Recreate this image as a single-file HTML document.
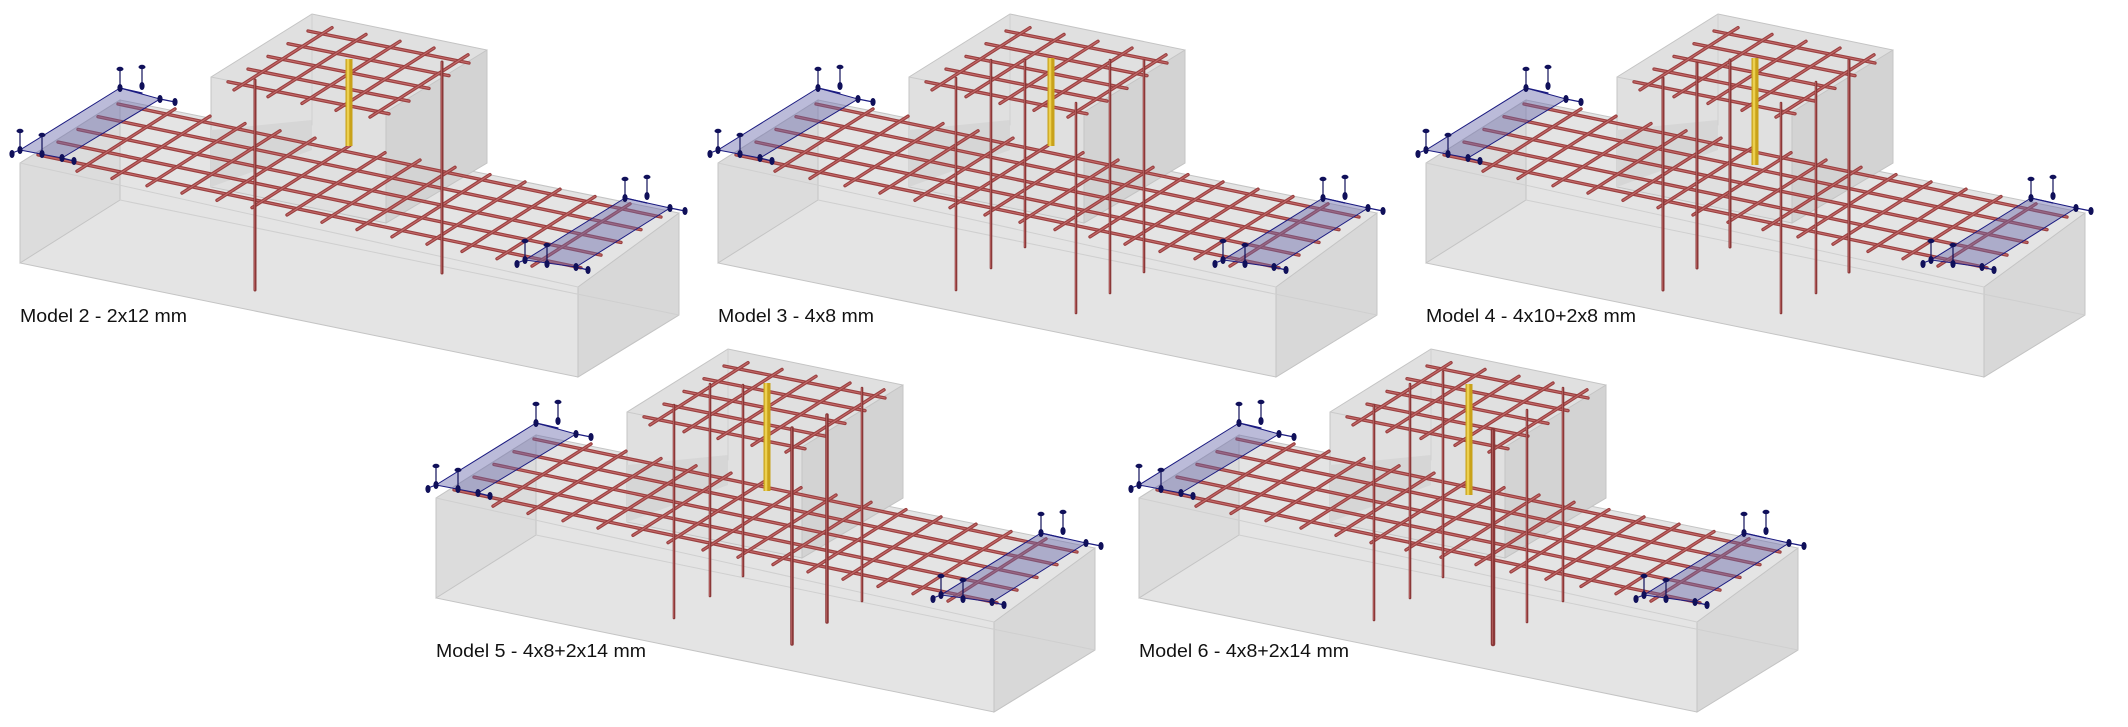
<!DOCTYPE html>
<html><head><meta charset="utf-8"><style>
html,body{margin:0;padding:0;background:#fff;width:2128px;height:727px;overflow:hidden}
svg{display:block}
text{font-family:"Liberation Sans",sans-serif;font-size:18px;fill:#111}
</style></head><body>
<svg id="s" width="2128" height="727" viewBox="0 0 2128 727" xmlns="http://www.w3.org/2000/svg">
<g id="models"></g>
<text x="20" y="322" textLength="167" lengthAdjust="spacingAndGlyphs">Model 2 - 2x12 mm</text>
<text x="718" y="322" textLength="156" lengthAdjust="spacingAndGlyphs">Model 3 - 4x8 mm</text>
<text x="1426" y="322" textLength="210" lengthAdjust="spacingAndGlyphs">Model 4 - 4x10+2x8 mm</text>
<text x="436" y="657" textLength="210" lengthAdjust="spacingAndGlyphs">Model 5 - 4x8+2x14 mm</text>
<text x="1139" y="657" textLength="210" lengthAdjust="spacingAndGlyphs">Model 6 - 4x8+2x14 mm</text>
</svg>
<script>
var NS="http://www.w3.org/2000/svg";
var root=document.getElementById("models");
function el(p,tag,a){var e=document.createElementNS(NS,tag);for(var k in a)e.setAttribute(k,a[k]);p.appendChild(e);return e;}
function poly(g,pts,fill,stroke){return el(g,"polygon",{points:pts.map(function(p){return p.join(",")}).join(" "),fill:fill,stroke:stroke||"#c4c4c4","stroke-width":1});}
function line(g,a,b,c,w,extra){var o={x1:a[0],y1:a[1],x2:b[0],y2:b[1],stroke:c,"stroke-width":w,"stroke-linecap":"round"};for(var k in extra)o[k]=extra[k];return el(g,"line",o);}
function bar(g,a,b){line(g,a,b,"#9a4040",3.4);line(g,a,b,"#c46a6a",1.1);}
function marker(g,x,y,up){
  if(up){line(g,[x,y],[x,y-18],"#10105a",1.2);el(g,"ellipse",{cx:x,cy:y-19,rx:3.5,ry:2.2,fill:"#10105a"});}
  el(g,"ellipse",{cx:x,cy:y,rx:2.6,ry:4,fill:"#10105a"});
}
function plate(g,p){
  poly(g,p,"rgba(105,105,170,0.45)","#1a1a80");
  line(g,p[0],[p[0][0]+22,p[0][1]+5],"#1a1a80",1.2);
  line(g,p[1],[p[1][0]+15,p[1][1]+3],"#1a1a80",1.2);
  line(g,p[3],[p[3][0]-8,p[3][1]+3],"#1a1a80",1.2);
  line(g,p[2],[p[2][0]+12,p[2][1]+3],"#1a1a80",1.2);
  marker(g,p[0][0],p[0][1],true);marker(g,p[1][0],p[1][1],false);
  marker(g,p[1][0]+15,p[1][1]+3,false);marker(g,p[0][0]+22,p[0][1]-2,true);
  marker(g,p[3][0],p[3][1],true);marker(g,p[3][0]-8,p[3][1]+4,false);
  marker(g,p[2][0],p[2][1],false);marker(g,p[2][0]+12,p[2][1]+3,false);
  marker(g,p[3][0]+22,p[3][1]+4,true);
}
function model(ox,oy,verts,yel){
  var g=el(root,"g",{transform:"translate("+ox+","+oy+")"});
  poly(g,[[20,163],[120,100],[679,213],[679,315],[578,377],[20,263]],"#e4e4e4");
  poly(g,[[20,163],[120,100],[120,200],[20,263]],"#dcdcdc");
  poly(g,[[578,287],[679,213],[679,315],[578,377]],"#d8d8d8");
  line(g,[120,200],[679,315],"#cfcfcf",1);
  line(g,[20,163],[578,287],"#cfcfcf",1);
  poly(g,[[211,77],[312,14],[487,50],[487,163],[386,223],[211,187]],"#e0e0e0");
  poly(g,[[386,112],[487,50],[487,163],[386,223]],"#d3d3d3");
  poly(g,[[211,130],[312,120],[312,150],[211,187]],"#d6d6d6","none");
  line(g,[211,77],[386,112],"#cacaca",1);
  line(g,[312,14],[312,125],"#d0d0d0",1);
  var s=[-20,12.7];
  for(var i=0;i<5;i++){bar(g,[118+s[0]*i,104+s[1]*i],[661+s[0]*i,217+s[1]*i]);}
  for(var t=0;t<14;t++){var px=167+35*t,py=114+7.3*t;
    bar(g,[px-0.4*s[0],py-0.4*s[1]],[px+4.5*s[0],py+4.5*s[1]]);}
  for(var j=0;j<5;j++){bar(g,[308+s[0]*j,31+s[1]*j],[469+s[0]*j,63+s[1]*j]);}
  for(var k=0;k<5;k++){var qx=322+34*k,qy=34+6.8*k;
    bar(g,[qx-0.5*s[0],qy-0.5*s[1]],[qx+4.4*s[0],qy+4.4*s[1]]);}
  plate(g,[[120,88],[160,99],[62,158],[20,150]]);
  plate(g,[[625,198],[670,208],[576,267],[525,260]]);
  verts.forEach(function(v){line(g,[v[0],v[1]],[v[0],v[2]],"#8a3838",v[3]||2.6);line(g,[v[0]-0.5,v[1]],[v[0]-0.5,v[2]],"#b86060",0.8);});
  line(g,[yel[0],yel[1]],[yel[0],yel[2]],"#c9a21a",7,{"stroke-linecap":"butt"});
  line(g,[yel[0]-1,yel[1]],[yel[0]-1,yel[2]],"#ecd050",2.5,{"stroke-linecap":"butt"});
}
model(0,0,[[255,80,290,3],[442,62,273,3]],[349,59,146]);
model(698,0,[[258,78,290],[293,60,268],[327,60,247],[378,103,313],[412,60,293],[446,60,272]],[353,58,146]);
model(1406,0,[[257,78,290,3],[291,63,268,3],[324,60,247,3],[375,103,313],[410,82,293],[443,60,272,3]],[349,58,165]);
model(416,335,[[258,70,283],[294,49,261],[327,50,241],[376,93,309,3.5],[411,80,287,3.5],[446,53,266]],[351,48,156]);
model(1119,335,[[255,70,285],[291,49,263],[324,37,242],[374,95,309,4.5],[408,75,287],[444,53,266]],[350,49,160]);
</script>
</body></html>
